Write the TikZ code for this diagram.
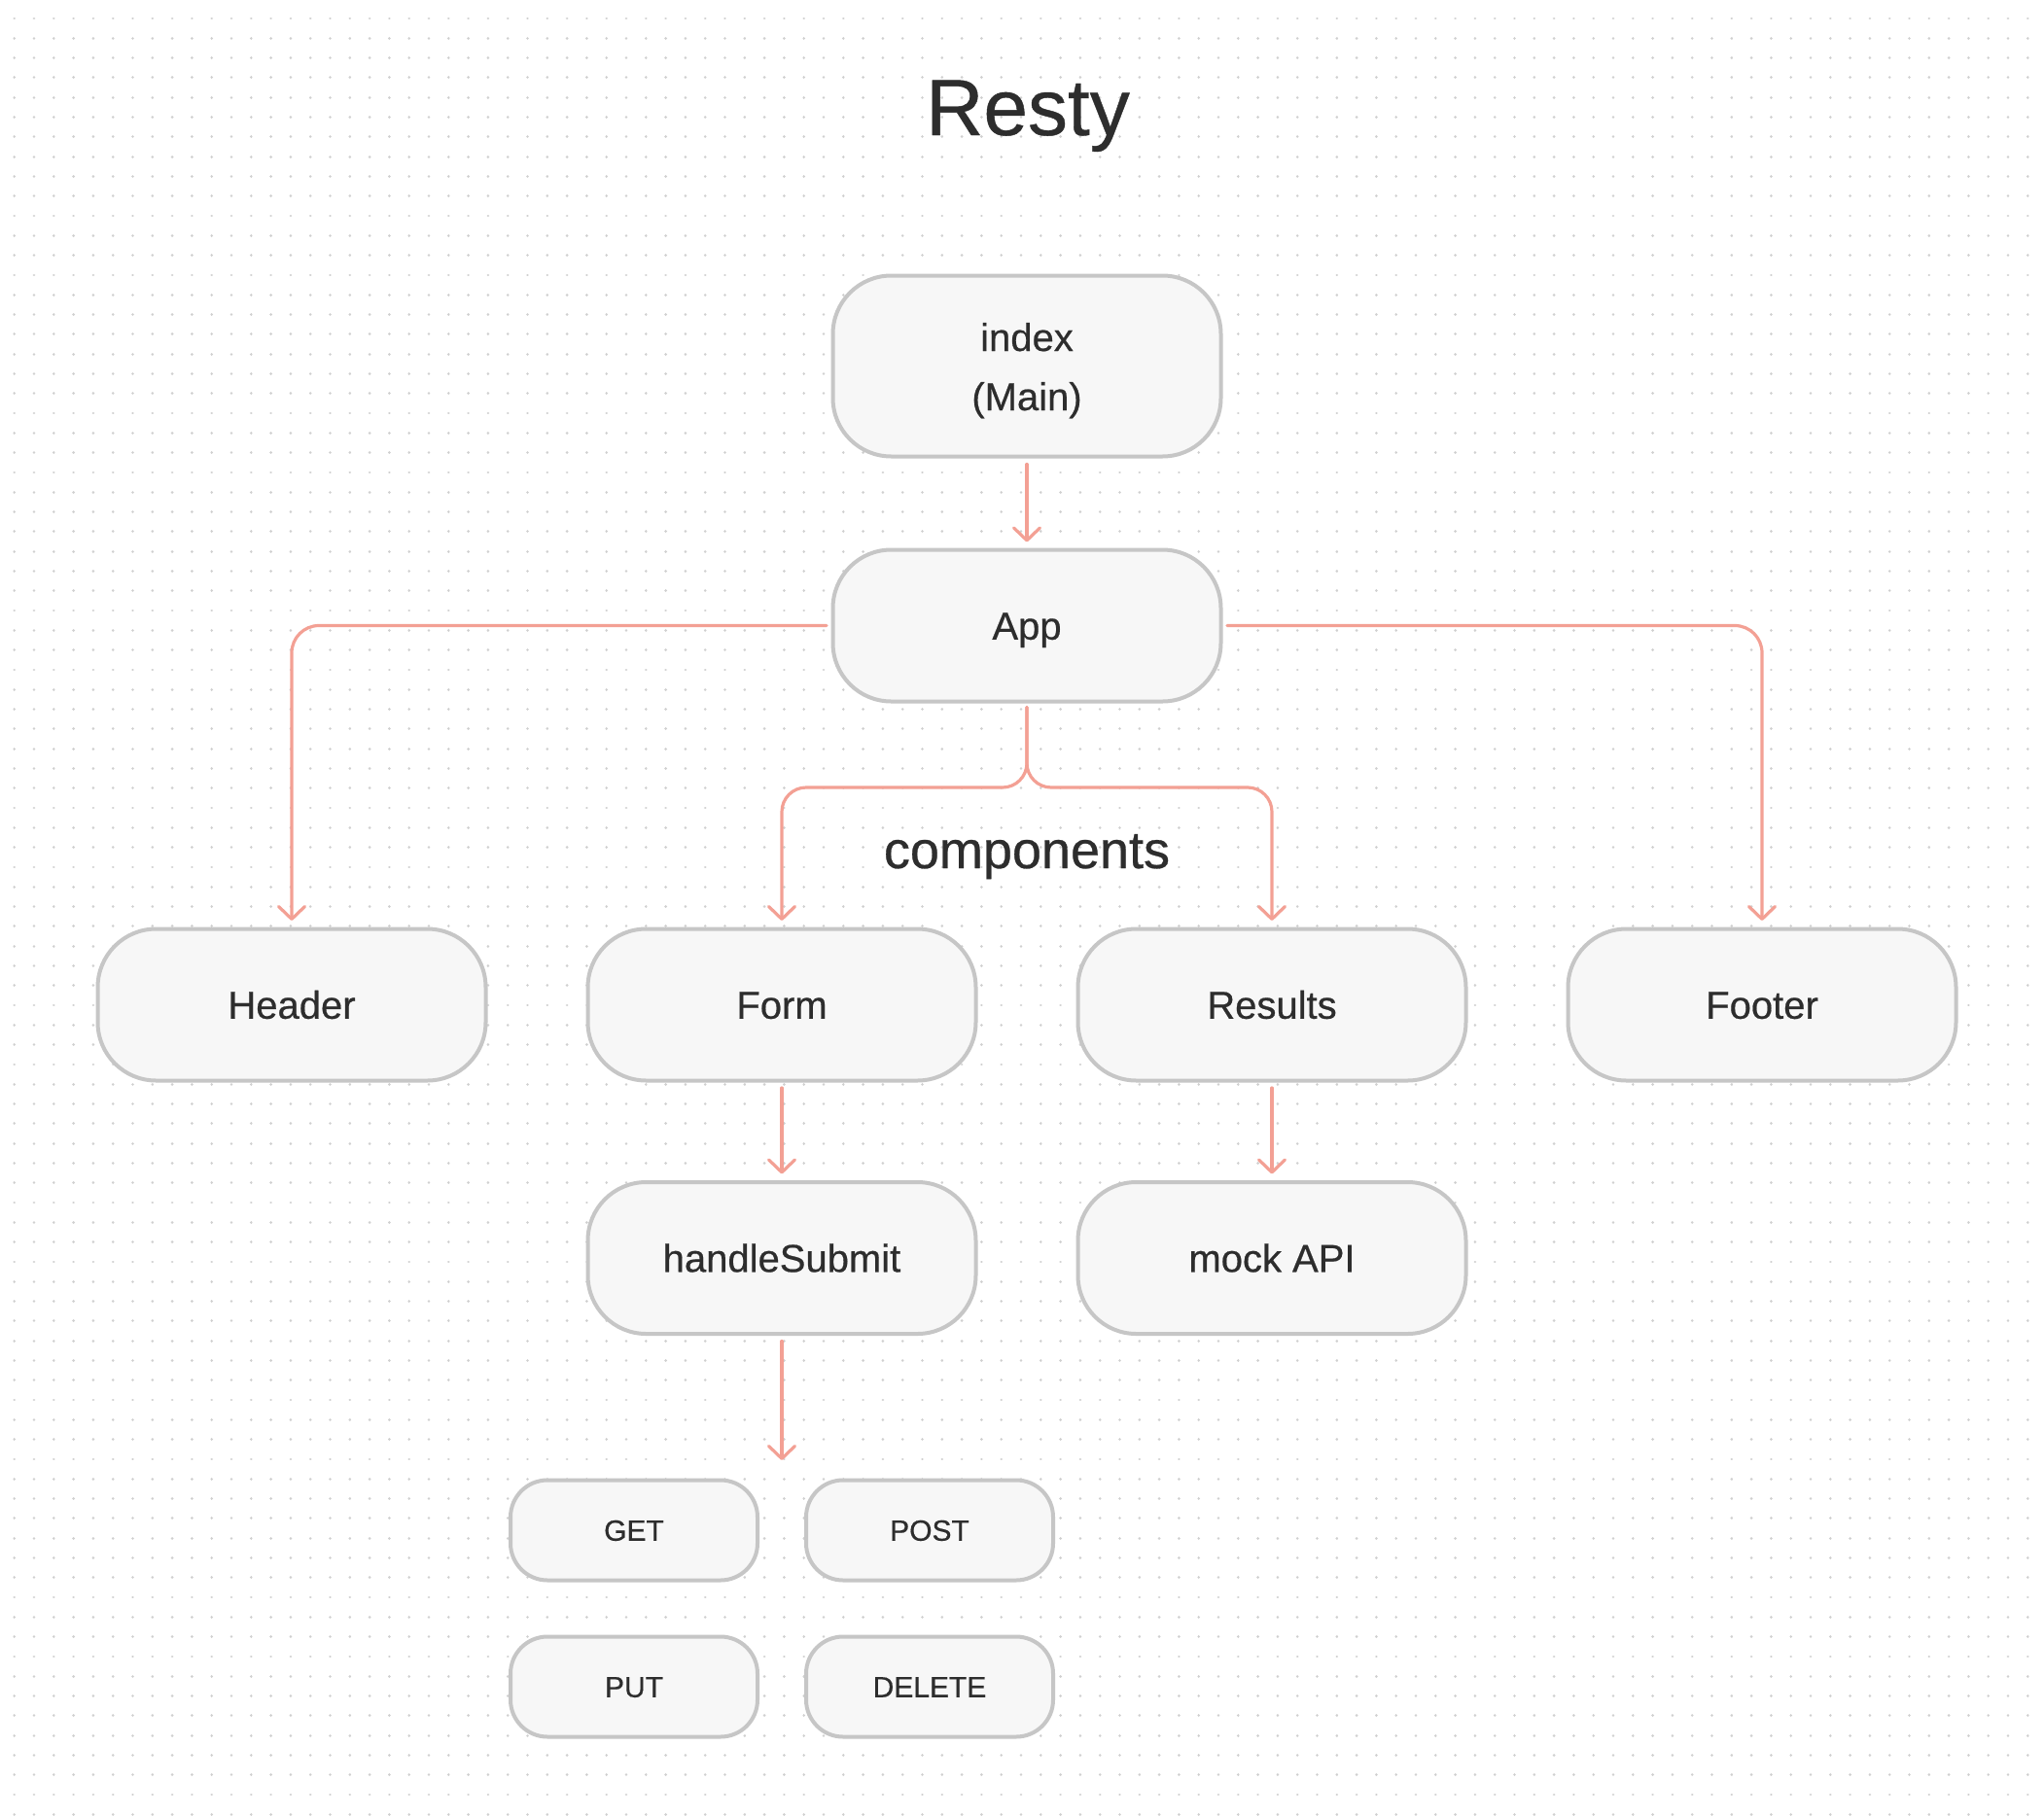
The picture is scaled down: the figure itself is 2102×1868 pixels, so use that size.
\documentclass[tikz,border=0pt]{standalone}
\usepackage{fontspec}
\setmainfont[FakeBold=0.5]{Liberation Sans}
\usetikzlibrary{arrows.meta}
\definecolor{conncol}{RGB}{243,160,148}
\definecolor{boxline}{RGB}{198,198,198}
\definecolor{boxfill}{RGB}{247,247,247}
\definecolor{txt}{RGB}{45,45,45}
\definecolor{dotcol}{RGB}{208,208,208}
\begin{document}
\begin{tikzpicture}[x=1pt,y=-1pt,
  bigbox/.style={draw=boxline, fill=boxfill, line width=4pt, rounded corners=60pt,
    minimum width=399pt, minimum height=156pt, inner sep=0pt, outer sep=0pt,
    text=txt, font=\fontsize{40}{48}\selectfont, text height=28.6pt, text depth=0pt},
  smallbox/.style={draw=boxline, fill=boxfill, line width=4pt, rounded corners=38pt,
    minimum width=254pt, minimum height=103pt, inner sep=0pt, outer sep=0pt,
    text=txt, font=\fontsize{30}{36}\selectfont, text height=21.5pt, text depth=0pt},
  lbltext/.style={inner sep=0pt, text=txt, font=\fontsize{40}{48}\selectfont, anchor=base},
  titletext/.style={inner sep=0pt, text=txt, font=\fontsize{82}{96}\selectfont, anchor=base},
  comptext/.style={inner sep=0pt, text=txt, font=\fontsize{54}{64}\selectfont, anchor=base},
  conn/.style={draw=conncol, line width=3.2pt, line cap=round,
    -{Straight Barb[length=13pt,width=27pt,round]}},
  dotrow/.style={draw=dotcol, line width=2.8pt, line cap=round, dash pattern=on 0.01pt off 20.29pt},
]
\useasboundingbox (0,0) rectangle (2102,1868);
\fill[white] (0,0) rectangle (2102,1868);
% dot grid background
\foreach \r in {0,...,91}{
  \pgfmathsetmacro{\yy}{19+20.3*\r}
  \draw[dotrow] (14.7,\yy) -- (2102,\yy);
}
% title
\node[titletext] (title) at (1057,139) {Resty};
% boxes
\node[bigbox, minimum height=186pt] (index) at (1056,376.5) {};
\node[lbltext] (indexA) at (1056,361) {index};
\node[lbltext] (indexB) at (1056,422) {(Main)};
\node[bigbox] (app) at (1056,643.5) {App};
\node[bigbox] (header) at (300,1033.5) {Header};
\node[bigbox] (form) at (804,1033.5) {Form};
\node[bigbox] (results) at (1308,1033.5) {Results};
\node[bigbox] (footer) at (1812,1033.5) {Footer};
\node[bigbox] (submit) at (804,1294) {handleSubmit};
\node[bigbox] (mock) at (1308,1294) {mock API};
\node[smallbox] (get) at (652,1574) {GET};
\node[smallbox] (post) at (956,1574) {POST};
\node[smallbox] (put) at (652,1735) {PUT};
\node[smallbox] (delete) at (956,1735) {DELETE};
\node[comptext] (components) at (1056,893) {components};
% connectors
\draw[conn, shorten <=8pt, shorten >=8pt] (index.south) -- (app.north);
\draw[conn, rounded corners=28pt, shorten >=8.5pt] ([xshift=-6.5pt]app.west) -| (header.north);
\draw[conn, rounded corners=28pt, shorten >=8.5pt] ([xshift=6.5pt]app.east) -| (footer.north);
\coordinate (split) at (1056,810);
\draw[conn, rounded corners=25pt, shorten >=8.5pt] ([yshift=-6pt]app.south) -- (split) -| (form.north);
\draw[conn, rounded corners=25pt, shorten >=8.5pt] ([yshift=-6pt]app.south) -- (split) -| (results.north);
\draw[conn, shorten <=7.5pt, shorten >=8.5pt] (form.south) -- (submit.north);
\draw[conn, shorten <=7.5pt, shorten >=8.5pt] (results.south) -- (mock.north);
\coordinate (methods) at (804,1502);
\draw[conn, shorten <=7.5pt] (submit.south) -- (methods);
\end{tikzpicture}
\end{document}
